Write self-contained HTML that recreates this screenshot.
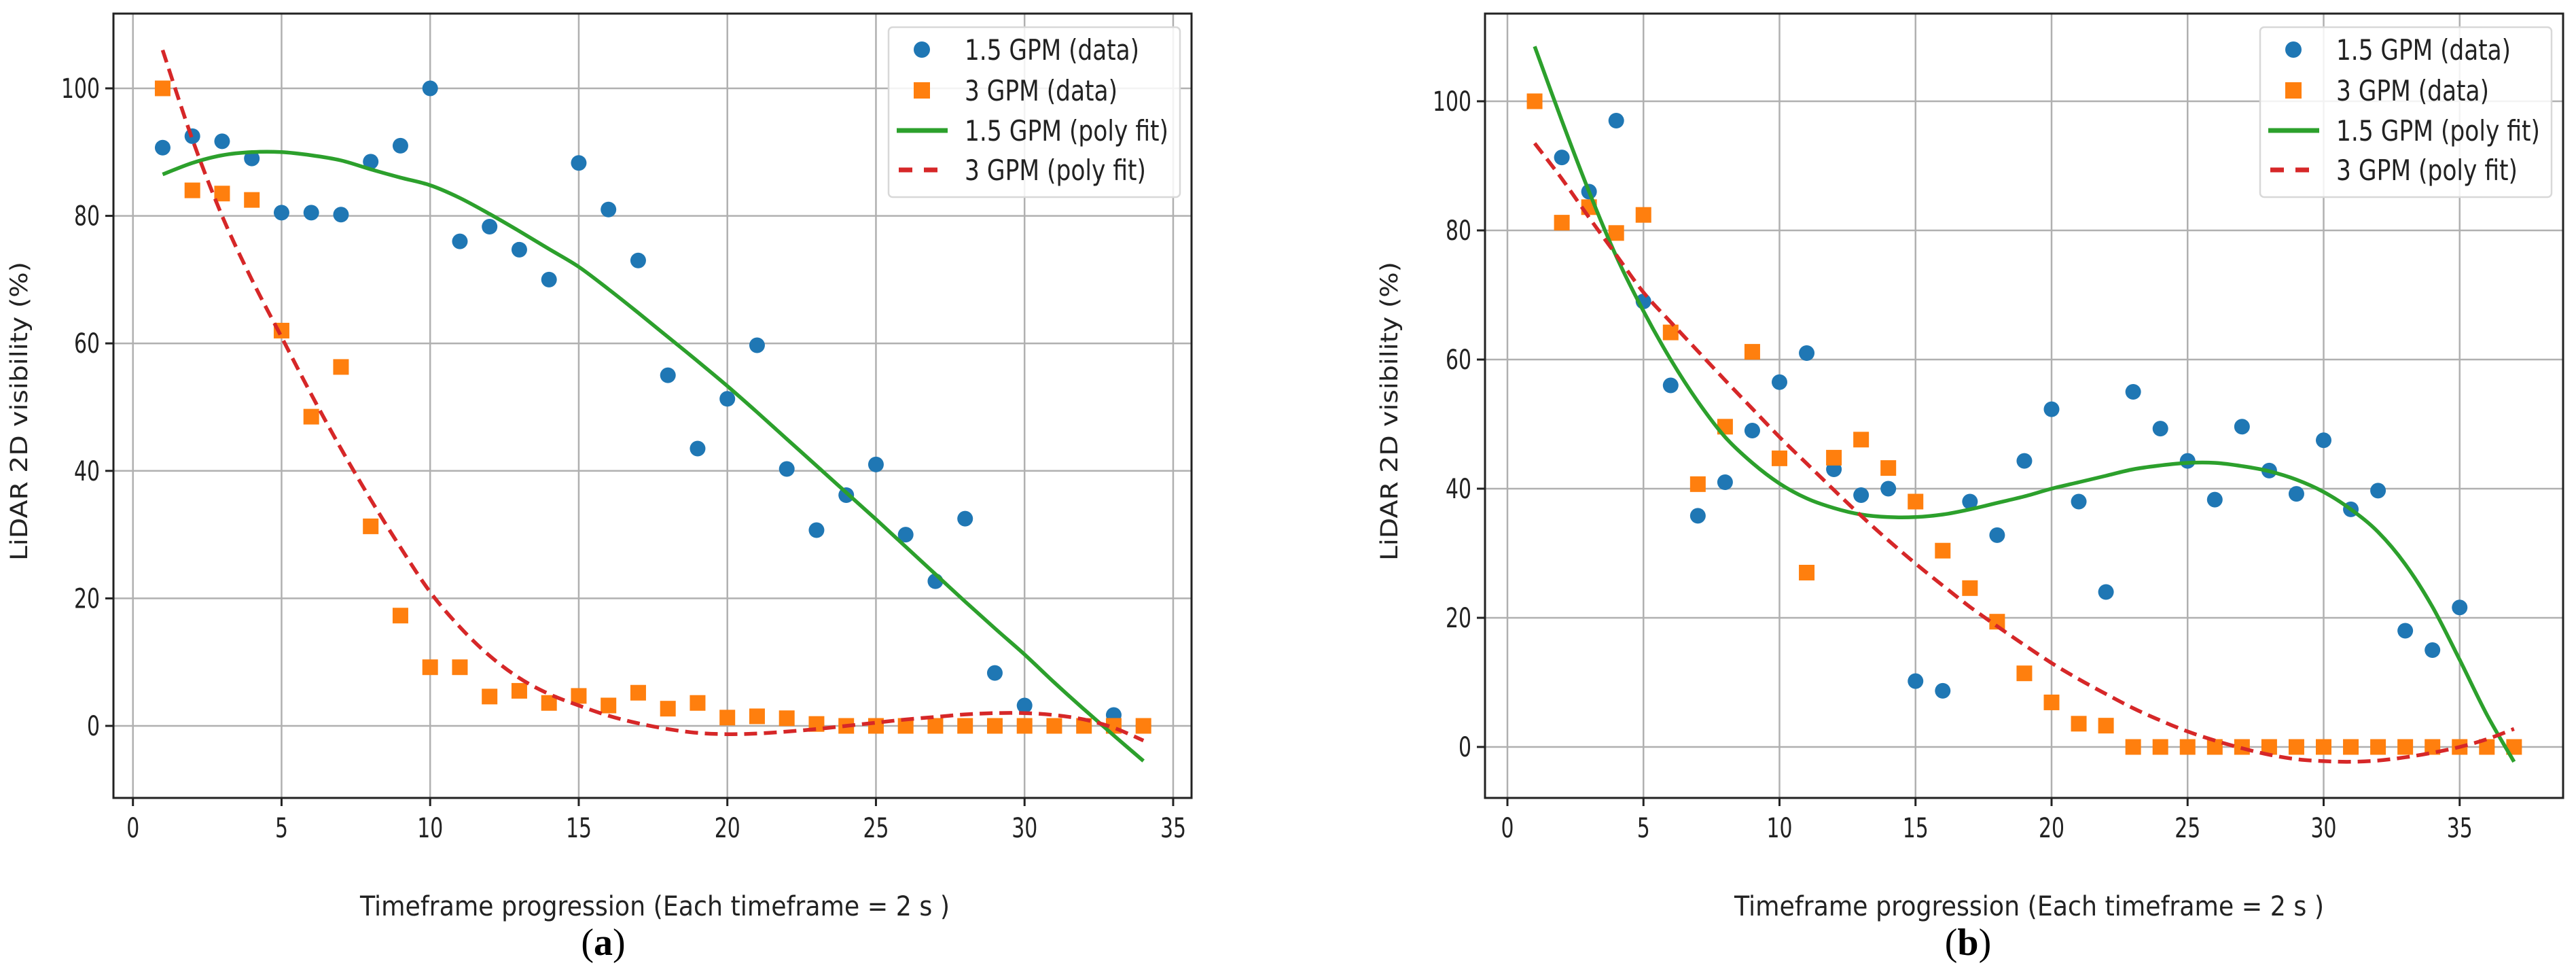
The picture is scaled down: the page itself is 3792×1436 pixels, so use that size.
<!DOCTYPE html>
<html><head><meta charset="utf-8"><style>
html,body{margin:0;padding:0;background:#fff;}
svg{display:block;font-family:"DejaVu Sans","Liberation Sans",sans-serif;}
</style></head><body>
<svg id="fig" width="3792" height="1436" viewBox="0 0 3792 1436" xmlns="http://www.w3.org/2000/svg"></svg>
<script>
// ---------- Panel (a) data ----------
const xA = [1,2,3,4,5,6,7,8,9,10,11,12,13,14,15,16,17,18,19,20,21,22,23,24,25,26,27,28,29,30,31,32,33,34];
const blueA = [90.7,92.5,91.7,89,80.5,80.5,80.2,88.5,91,100,76,78.3,74.7,70,88.3,81,73,55,43.5,51.3,59.7,40.3,30.7,36.2,41,30,22.7,32.5,8.3,3.2,0,0,1.7,0];
const orangeA = [100,84,83.5,82.5,62,48.5,56.3,31.3,17.3,9.2,9.2,4.6,5.5,3.6,4.7,3.2,5.2,2.7,3.6,1.3,1.5,1.2,0.3,0,0,0,0,0,0,0,0,0,0,0];
const greenFitA = [86.5,88.3,89.5,90,90,89.5,88.7,87.3,86,84.8,82.8,80.3,77.6,74.8,72,68.5,64.8,61,57.2,53.3,49.2,45,40.8,36.6,32.4,28.1,23.8,19.5,15.3,11.2,6.8,2.6,-1.5,-5.5];
const redFitA = [106,92,80,70,61,52,43.5,35.5,28,21,15.5,11,7.5,5,3.2,1.6,0.4,-0.5,-1.1,-1.3,-1.2,-0.9,-0.5,0,0.5,1,1.4,1.8,2,2,1.7,1,-0.3,-2.3];
// ---------- Panel (b) data ----------
const xB = [1,2,3,4,5,6,7,8,9,10,11,12,13,14,15,16,17,18,19,20,21,22,23,24,25,26,27,28,29,30,31,32,33,34,35,36,37];
const blueB = [100,91.3,86,97,69,56,35.8,41,49,56.5,61,43,39,40,10.2,8.7,38,32.8,44.3,52.3,38,24,55,49.3,44.3,38.3,49.6,42.8,39.2,47.5,36.8,39.7,18,15,21.6,0,0];
const orangeB = [100,81.2,83.6,79.6,82.4,64.2,40.7,49.6,61.2,44.7,27,44.8,47.6,43.2,38,30.4,24.6,19.4,11.4,6.9,3.6,3.3,0,0,0,0,0,0,0,0,0,0,0,0,0,0,0];
const greenFitB = [108.5,97,86,76,67.5,60,53.5,48,44,40.8,38.5,37,36,35.6,35.6,36,36.8,37.8,38.8,40,41,42,43,43.6,44,44,43.5,42.7,41.4,39.5,36.8,33.3,28.3,21.7,13.5,5,-2.3];
const redFitB = [93.5,88,82,76.2,70.4,65.8,61.3,56.8,52.4,48,43.9,39.8,35.8,32,28.4,25,21.7,18.7,15.8,13,10.5,8.2,6,4.1,2.4,1,-0.2,-1.2,-1.9,-2.2,-2.3,-2.1,-1.6,-0.9,0,1.2,2.8];
const xTicks = [0,5,10,15,20,25,30,35];
const yTicks = [0,20,40,60,80,100];
const legendLabels = ["1.5 GPM (data)","3 GPM (data)","1.5 GPM (poly fit)","3 GPM (poly fit)"];
const legendWidths = [257,225,300,267];

const NS = "http://www.w3.org/2000/svg";
const svg = document.getElementById('fig');
function mk(tag, attrs, parent){
  const e = document.createElementNS(NS, tag);
  for (const k in attrs) e.setAttribute(k, attrs[k]);
  (parent||svg).appendChild(e);
  return e;
}
function smoothPath(pts){
  let d = 'M'+pts[0][0].toFixed(1)+' '+pts[0][1].toFixed(1);
  for (let i=0;i<pts.length-1;i++){
    const p0 = pts[Math.max(0,i-1)], p1 = pts[i], p2 = pts[i+1], p3 = pts[Math.min(pts.length-1,i+2)];
    const c1x = p1[0]+(p2[0]-p0[0])/6, c1y = p1[1]+(p2[1]-p0[1])/6;
    const c2x = p2[0]-(p3[0]-p1[0])/6, c2y = p2[1]-(p3[1]-p1[1])/6;
    d += ' C'+c1x.toFixed(1)+' '+c1y.toFixed(1)+' '+c2x.toFixed(1)+' '+c2y.toFixed(1)+' '+p2[0].toFixed(1)+' '+p2[1].toFixed(1);
  }
  return d;
}
function drawPanel(p){
  const g = mk('g', {});
  
  
  const sx = v => p.x0 + v * p.kx;
  const sy = v => p.y0 - v * p.ky;
  xTicks.forEach(t => {
    const l = mk('line', {x1:sx(t), x2:sx(t), y1:p.top, y2:p.bottom, stroke:'#b0b0b0', 'stroke-width':2.5}, g);
    
    
  });
  yTicks.forEach(t => {
    const l = mk('line', {x1:p.left, x2:p.right, y1:sy(t), y2:sy(t), stroke:'#b0b0b0', 'stroke-width':2.5}, g);
    
    
  });
  const clip = mk('clipPath', {id:'clip-'+p.name}, g);
  mk('rect', {x:p.left, y:p.top, width:p.right-p.left, height:p.bottom-p.top}, clip);
  const plot = mk('g', {'clip-path':'url(#clip-'+p.name+')'}, g);
  
  
  p.blue.forEach((v,i) => {
    const c = mk('circle', {cx:sx(p.xs[i]), cy:sy(v), r:11.5, fill:'#1f77b4'}, plot);
    
    
  });
  p.orange.forEach((v,i) => {
    const r = mk('rect', {x:sx(p.xs[i])-11.5, y:sy(v)-11.5, width:23, height:23, fill:'#ff7f0e'}, plot);
    
    
  });
  const gl = mk('path', {d:smoothPath(p.xs.map((x,i)=>[sx(x),sy(p.green[i])])), fill:'none', stroke:'#2ca02c', 'stroke-width':5.5, 'stroke-linejoin':'round'}, plot);
  
  
  const rl = mk('path', {d:smoothPath(p.xs.map((x,i)=>[sx(x),sy(p.red[i])])), fill:'none', stroke:'#d62728', 'stroke-width':5.5, 'stroke-dasharray':'19 10'}, plot);
  
  
  const fr = mk('rect', {x:p.left, y:p.top, width:p.right-p.left, height:p.bottom-p.top, fill:'none', stroke:'#222', 'stroke-width':3}, g);
  
  
  xTicks.forEach(t => {
    mk('line', {x1:sx(t), x2:sx(t), y1:p.bottom, y2:p.bottom+12, stroke:'#222', 'stroke-width':3}, g);
    const s = String(t);
    const tx = mk('text', {x:sx(t), y:p.bottom+58, 'font-size':40, 'text-anchor':'middle', fill:'#222', textLength:s.length*19, lengthAdjust:'spacingAndGlyphs'}, g);
    tx.textContent = s;
    
    
  });
  yTicks.forEach(t => {
    mk('line', {x1:p.left-12, x2:p.left, y1:sy(t), y2:sy(t), stroke:'#222', 'stroke-width':3}, g);
    const s = String(t);
    const tx = mk('text', {x:p.left-20, y:sy(t)+14, 'font-size':40, 'text-anchor':'end', fill:'#222', textLength:s.length*19, lengthAdjust:'spacingAndGlyphs'}, g);
    tx.textContent = s;
    
    
  });
  const xt = mk('text', {x:p.xlabelX, y:1347, 'font-size':40, fill:'#222', 'xml:space':'preserve', textLength:868, lengthAdjust:'spacingAndGlyphs'}, g);
  xt.textContent = 'Timeframe progression (Each timeframe = 2 s    )';
  
  
  const ymid = (p.top+p.bottom)/2 + 8;
  const yt = mk('text', {x:p.ylabelX, y:ymid, 'font-size':35, 'text-anchor':'middle', fill:'#222', textLength:440, lengthAdjust:'spacingAndGlyphs', transform:'rotate(-90 '+p.ylabelX+' '+ymid+')'}, g);
  yt.textContent = 'LiDAR 2D visibility (%)';
  
  
  const lg = mk('g', {}, g);
  
  
  const lx = p.right - 446, ly = 40;
  mk('rect', {x:lx, y:ly, width:429, height:250, rx:6, fill:'#fff', 'fill-opacity':0.85, stroke:'#d8d8d8', 'stroke-width':2.5}, lg);
  const rows = [73,133,192,250];
  legendLabels.forEach((lab,i) => {
    const e = mk('g', {}, lg);
    
    
    const cx = lx+49, cy = rows[i];
    if (i===0) mk('circle', {cx:cx, cy:cy, r:12, fill:'#1f77b4'}, e);
    if (i===1) mk('rect', {x:cx-12, y:cy-12, width:24, height:24, fill:'#ff7f0e'}, e);
    if (i===2) mk('line', {x1:lx+12, x2:lx+87, y1:cy, y2:cy, stroke:'#2ca02c', 'stroke-width':7}, e);
    if (i===3) mk('line', {x1:lx+15, x2:lx+85, y1:cy, y2:cy, stroke:'#d62728', 'stroke-width':7, 'stroke-dasharray':'20 17'}, e);
    const t = mk('text', {x:lx+112, y:cy+15, 'font-size':42, fill:'#222', textLength:legendWidths[i], lengthAdjust:'spacingAndGlyphs'}, e);
    t.textContent = lab;
  });
  const cap = mk('text', {x:p.capX, y:1405, 'font-size':56, 'text-anchor':'middle', fill:'#000', 'font-family':'"Liberation Serif", serif'}, g);
  cap.innerHTML = '(<tspan font-weight="bold">'+p.cap+'</tspan>)';
  
  
}
drawPanel({name:'panel-a', xs:xA, blue:blueA, orange:orangeA, green:greenFitA, red:redFitA,
  left:167, right:1754, top:20, bottom:1174, x0:195.7, kx:43.75, y0:1068, ky:9.38,
  xlabelX:530, ylabelX:40, capX:888, cap:'a'});
drawPanel({name:'panel-b', xs:xB, blue:blueB, orange:orangeB, green:greenFitB, red:redFitB,
  left:2186, right:3773, top:20, bottom:1174, x0:2219, kx:40.05, y0:1099, ky:9.5,
  xlabelX:2553, ylabelX:2057, capX:2897, cap:'b'});
</script>
</body></html>
